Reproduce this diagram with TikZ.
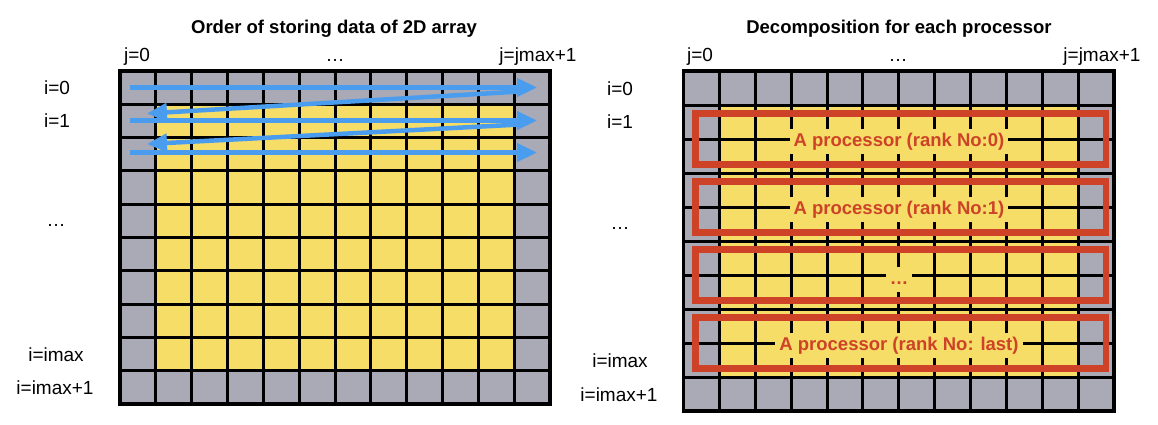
\documentclass[tikz,border=0pt]{standalone}
\usepackage{fontspec}
\setmainfont{Liberation Sans}
\usetikzlibrary{arrows.meta}
\definecolor{cellgrey}{RGB}{170,170,182}
\definecolor{cellyellow}{RGB}{245,221,104}
\definecolor{procred}{RGB}{206,66,40}
\definecolor{arrowblue}{RGB}{74,156,238}
\begin{document}
\begin{tikzpicture}[x=1bp,y=-1bp,
  lab/.style={font=\fontsize{19bp}{22bp}\selectfont, inner sep=0pt, anchor=base},
  ttl/.style={font=\fontsize{18.5bp}{22bp}\selectfont\bfseries, inner sep=0pt, anchor=base},
  gridline/.style={line width=3bp, draw=black},
  border/.style={line width=3.5bp, draw=black},
  procbox/.style={draw=procred, line width=6.5bp},
  proclab/.style={font=\fontsize{18.5bp}{21bp}\selectfont\bfseries, text=procred, fill=cellyellow, inner xsep=4bp, inner ysep=2bp, anchor=base},
  flow/.style={draw=arrowblue, line width=4.5bp, -{Triangle[length=20bp,width=18bp]}}
]
\useasboundingbox (0,0) rectangle (1158,424);
\fill[white] (0,0) rectangle (1158,424);

% ---------- left grid ----------
\fill[cellgrey] (120,71) rectangle (550,404);
\fill[cellyellow] ({120+430/12},{71+333/10}) rectangle ({550-430/12},{404-333/10});
\foreach \k in {1,...,11} \draw[gridline] ({120+\k*430/12},71) -- ({120+\k*430/12},404);
\foreach \k in {1,...,9} \draw[gridline] (120,{71+\k*33.3}) -- (550,{71+\k*33.3});
\draw[border] (120,71) rectangle (550,404);

% ---------- right grid ----------
\fill[cellgrey] (683.5,71) rectangle (1114,411);
\fill[cellyellow] ({683.5+430.5/12},105) rectangle ({1114-430.5/12},377);
\foreach \k in {1,...,11} \draw[gridline] ({683.5+\k*430.5/12},71) -- ({683.5+\k*430.5/12},411);
\foreach \k in {1,...,9} \draw[gridline] (683.5,{71+\k*34}) -- (1114,{71+\k*34});
\draw[border] (683.5,71) rectangle (1114,411);

% ---------- titles ----------
\node[ttl] (title1) at (334,33.5) {Order of storing data of 2D array};
\node[ttl] (title2) at (899,33.5) {Decomposition for each processor};

% ---------- column labels ----------
\node[lab] (lj0) at (137,61.5) {j=0};
\node[lab] (ljd) at (335,61.5) {\ldots};
\node[lab] (ljm) at (538,61.5) {j=jmax+1};
\node[lab] (rj0) at (700,61.5) {j=0};
\node[lab] (rjd) at (898,61.5) {\ldots};
\node[lab] (rjm) at (1102,61.5) {j=jmax+1};

% ---------- row labels ----------
\node[lab] (li0) at (57,94.5) {i=0};
\node[lab] (li1) at (57,127.5) {i=1};
\node[lab] (lid) at (56,226.5) {\ldots};
\node[lab] (lim) at (56,361) {i=imax};
\node[lab] (lie) at (55,394) {i=imax+1};
\node[lab] (ri0) at (620,95) {i=0};
\node[lab] (ri1) at (620,128.5) {i=1};
\node[lab] (rid) at (620,229.5) {\ldots};
\node[lab] (rim) at (620,367.5) {i=imax};
\node[lab] (rie) at (619,401.5) {i=imax+1};

% ---------- storing order arrows ----------
\coordinate (a0s) at (130,87.5);  \coordinate (a0e) at (537,87.5);
\coordinate (b0s) at (520,91.5);  \coordinate (b0e) at (147,113.5);
\coordinate (a1s) at (130,120.5); \coordinate (a1e) at (537,120.5);
\coordinate (b1s) at (520,124.5); \coordinate (b1e) at (147,144);
\coordinate (a2s) at (130,152.5); \coordinate (a2e) at (537,152.5);
\draw[flow] (a0s) -- (a0e);
\draw[flow] (b0s) -- (b0e);
\draw[flow] (a1s) -- (a1e);
\draw[flow] (b1s) -- (b1e);
\draw[flow] (a2s) -- (a2e);

% ---------- processor boxes ----------
\foreach \r in {0,1,2,3} {
  \draw[procbox] (695.5,{71+(2*\r+1)*34+8.5}) rectangle (1106,{71+(2*\r+3)*34-8.5});
}
\node[proclab] (p0) at (899,146) {\strut A processor (rank No:0)};
\node[proclab] (p1) at (899,214) {\strut A processor (rank No:1)};
\node[proclab] (p2) at (899,284) {\strut\ldots};
\node[proclab] (p3) at (899,350) {\strut A processor (rank No: last)};
\end{tikzpicture}
\end{document}
